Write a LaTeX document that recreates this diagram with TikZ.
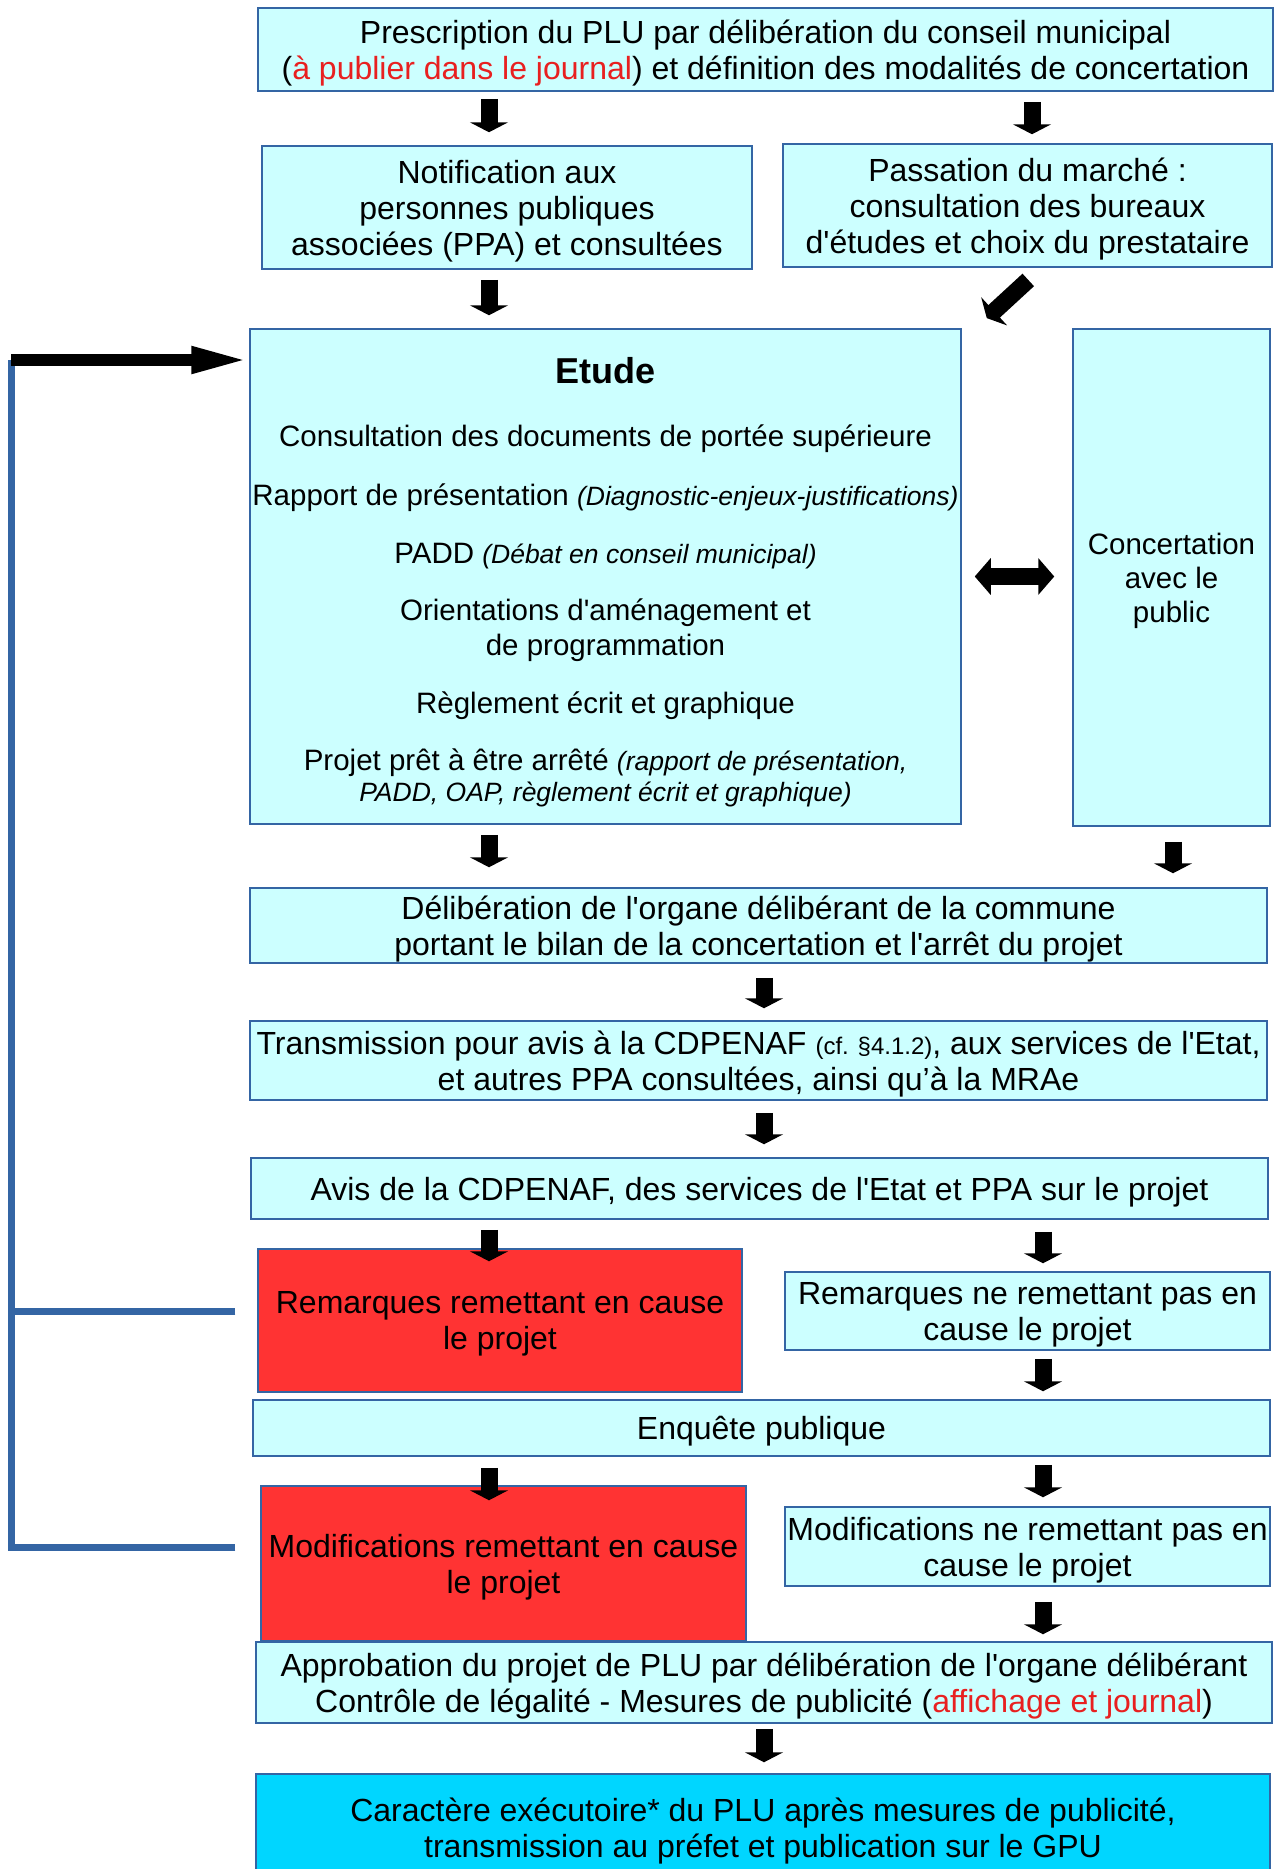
\documentclass[tikz,border=0pt]{standalone}
\usepackage{fontspec}
\setmainfont{Liberation Sans}[Ligatures=TeXOff]
\usetikzlibrary{positioning,arrows.meta}
\definecolor{colorbox}   {RGB}{204,255,255}
\definecolor{colorremark}{RGB}{255,51 ,51 }
\definecolor{colorfinal} {RGB}{0  ,214,255}
\definecolor{colorborder}{RGB}{52 ,101,164}
\definecolor{colortext}  {RGB}{0  ,0  ,0  }
\definecolor{colorpub}   {RGB}{232,32 ,32 }
\newcommand{\noteit}[1]{{\fontsize{26.5}{31}\selectfont\itshape #1}}

\begin{document}
\begin{tikzpicture}[
    x=1pt, y=-1pt,
    font={\fontsize{32}{36}\selectfont},
    base/.style={text=colortext,draw=colorborder,line width=1.5pt,fill=colorbox,align=center,rectangle,inner sep=0pt,text depth=0pt},
    remark/.style={base,fill=colorremark},
    txt/.style={text=colortext,align=center,inner sep=0pt,font={\fontsize{29.5}{35}\selectfont}},
    block/.style={draw=black,line width=17pt,-{Triangle[length=10pt,width=38pt]}},
    loopline/.style={draw=colorborder,line width=7pt},
    bigarrow/.style={draw=black,line width=12.5pt,-{Triangle[length=60pt,width=24pt]}},
]
    \useasboundingbox (0,0) rectangle (1274,1869);

    \node[base,minimum width=1015pt,minimum height=83pt] at (765.5,49.5) (prescription) {Prescription du PLU par délibération du conseil municipal\\(\textcolor{colorpub}{à publier dans le journal}) et définition des modalités de concertation};
    \node[base,minimum width=490pt,minimum height=123pt] at (507,207.5) (notif) {Notification aux\\personnes publiques\\associées (PPA) et consultées};
    \node[base,minimum width=489pt,minimum height=123pt] at (1027.5,205.5) (pass) {Passation du marché :\\consultation des bureaux\\d'études et choix du prestataire};

    \node[base,minimum width=711pt,minimum height=495pt] at (605.5,576.5) (etude) {};
    \node[txt,font={\fontsize{36}{40}\selectfont\bfseries}] at (605.5,371) (etudetitle) {Etude};
    \node[txt] at (605.5,438.5) (docsup) {Consultation des documents de portée supérieure};
    \node[txt] at (605.5,498) (rapport) {Rapport de présentation \noteit{(Diagnostic-enjeux-justifications)}};
    \node[txt] at (605.5,556) (padd) {PADD \noteit{(Débat en conseil municipal)}};
    \node[txt] at (605.5,630.5) (oap) {Orientations d'aménagement et\\de programmation};
    \node[txt] at (605.5,705.5) (reglement) {Règlement écrit et graphique};
    \node[txt] at (605.5,778) (arret) {Projet prêt à être arrêté \noteit{(rapport de présentation,}\\[-4pt]\noteit{PADD, OAP, règlement écrit et graphique)}};

    \node[base,minimum width=197pt,minimum height=497pt,font={\fontsize{29.5}{34}\selectfont}] at (1171.5,577.5) (conc) {Concertation\\avec le\\public};

    \node[base,minimum width=1017pt,minimum height=75pt] at (758.5,925.5) (delib) {Délibération de l'organe délibérant de la commune\\portant le bilan de la concertation et l'arrêt du projet};
    \node[base,minimum width=1017pt,minimum height=79pt] at (758.5,1060.5) (trans) {Transmission pour avis à la CDPENAF {\fontsize{24}{28}\selectfont(cf. §4.1.2)}, aux services de l'Etat,\\et autres PPA consultées, ainsi qu’à la MRAe};
    \node[base,minimum width=1017pt,minimum height=61pt] at (759.5,1188.5) (avis) {Avis de la CDPENAF, des services de l'Etat et PPA sur le projet};

    \node[remark,minimum width=484pt,minimum height=143pt] at (500,1320.5) (rem) {Remarques remettant en cause\\le projet};
    \node[base,minimum width=485pt,minimum height=78pt] at (1027.5,1311) (remne) {Remarques ne remettant pas en\\cause le projet};
    \node[base,minimum width=1017pt,minimum height=56pt] at (761.5,1428) (enq) {Enquête publique};
    \node[remark,minimum width=485pt,minimum height=155pt] at (503.5,1563.5) (mod) {Modifications remettant en cause\\le projet};
    \node[base,minimum width=485pt,minimum height=79pt] at (1027.5,1546.5) (modne) {Modifications ne remettant pas en\\cause le projet};

    \node[base,minimum width=1016pt,minimum height=81pt] at (764,1682.5) (appro) {Approbation du projet de PLU par délibération de l'organe délibérant\\Contrôle de légalité - Mesures de publicité (\textcolor{colorpub}{affichage et journal})};
    \node[base,fill=colorfinal,minimum width=1014pt,minimum height=108pt] at (763,1828) (exec) {Caractère exécutoire* du PLU après mesures de publicité,\\transmission au préfet et publication sur le GPU};

    % columns of the arrows
    \coordinate (colleft)  at (489,0);
    \coordinate (colmid)   at (764,0);
    \coordinate (colpass)  at (1032,0);
    \coordinate (colright) at (1043,0);
    \coordinate (colconc)  at (1173,0);
    \coordinate (looptop)  at (11,360);

    \draw[block,shorten <=7pt,shorten >=13pt] (prescription.south -| colleft) -- (notif.north -| colleft);
    \draw[block,shorten <=10pt,shorten >=9pt] (prescription.south -| colpass) -- (pass.north -| colpass);
    \draw[block,shorten <=10pt,shorten >=13pt] (notif.south -| colleft) -- (etude.north -| colleft);
    \draw[block,shorten <=18pt,shorten >=15pt] ([xshift=14pt]pass.south) -- ([xshift=14pt]etude.north east);
    \draw[block,{Triangle[length=16pt,width=36pt]}-{Triangle[length=16pt,width=36pt]},shorten <=13pt,shorten >=18pt] (etude.east) -- (etude.east -| conc.west);
    \draw[block,shorten <=10pt,shorten >=20pt] (etude.south -| colleft) -- (delib.north -| colleft);
    \draw[block,shorten <=15pt,shorten >=14pt] (conc.south -| colconc) -- (delib.north -| colconc);
    \draw[block,shorten <=14pt,shorten >=12pt] (delib.south -| colmid) -- (trans.north -| colmid);
    \draw[block,shorten <=12pt,shorten >=13pt] (trans.south -| colmid) -- (avis.north -| colmid);
    \draw[block,shorten <=10pt,shorten >=-13pt] (avis.south -| colleft) -- (rem.north -| colleft);
    \draw[block,shorten <=12pt,shorten >=8pt] (avis.south -| colright) -- (remne.north -| colright);
    \draw[block,shorten <=8pt,shorten >=8pt] (remne.south -| colright) -- (enq.north -| colright);
    \draw[block,shorten <=11pt,shorten >=-15pt] (enq.south -| colleft) -- (mod.north -| colleft);
    \draw[block,shorten <=8pt,shorten >=9pt] (enq.south -| colright) -- (modne.north -| colright);
    \draw[block,shorten <=15pt,shorten >=7pt] (modne.south -| colright) -- (appro.north -| colright);
    \draw[block,shorten <=5pt,shorten >=11pt] (appro.south -| colmid) -- (exec.north -| colmid);

    % back to the study
    \draw[loopline,shorten <=25pt] ([yshift=16pt]mod.west) -| (looptop);
    \draw[loopline,shorten <=22pt] ([yshift=9.5pt]rem.west) -- ([yshift=9.5pt]rem.west -| looptop);
    \draw[bigarrow,shorten >=-2pt] (looptop) -- (looptop -| etude.west);

\end{tikzpicture}
\end{document}
